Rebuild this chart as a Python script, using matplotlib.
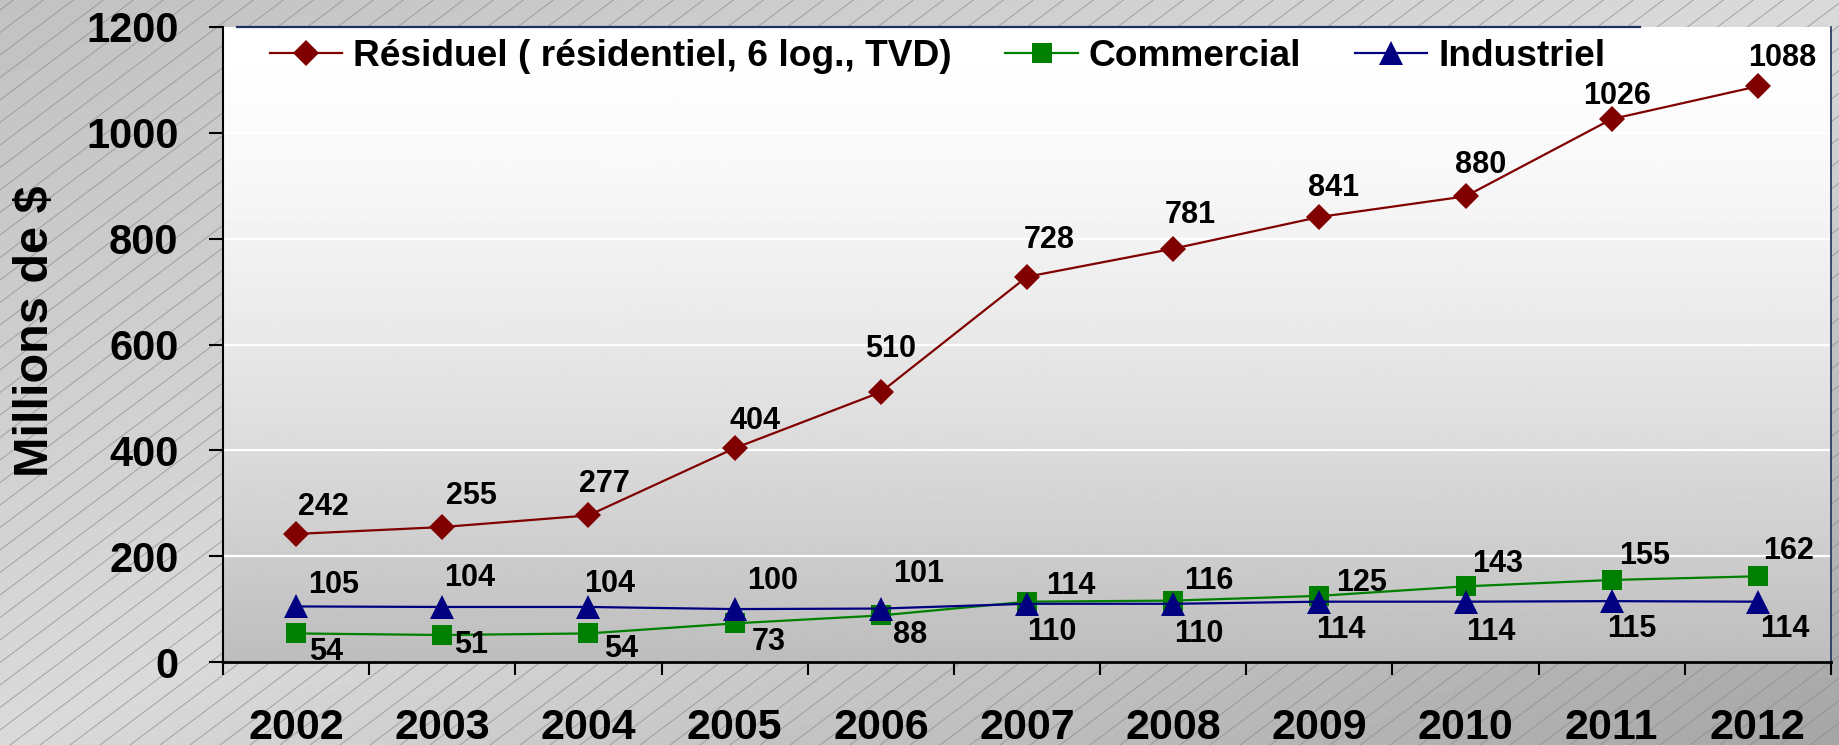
import numpy as np
import matplotlib
matplotlib.use("Agg")
import matplotlib.pyplot as plt

plt.rcParams['font.family'] = ['Liberation Sans', 'DejaVu Sans']
plt.rcParams['font.weight'] = 'bold'

# données
annees = ['2002', '2003', '2004', '2005', '2006', '2007', '2008', '2009', '2010', '2011', '2012']
residuel = [242, 255, 277, 404, 510, 728, 781, 841, 880, 1026, 1088]
commercial = [54, 51, 54, 73, 88, 114, 116, 125, 143, 155, 162]
industriel = [105, 104, 104, 100, 101, 110, 110, 114, 114, 115, 114]

noms = ['Résiduel ( résidentiel, 6 log., TVD)', 'Commercial', 'Industriel']
couleurs = ['#800000', '#008000', '#000080']
marqueurs = ['D', 's', '^']
tailles = [13, 15, 17]

# décalage des étiquettes (pixels, vers le bas = positif)
dec_res = [(27, -27), (29, -31), (16, -31), (20, -27), (10, -43), (22, -37),
           (17, -34), (14, -29), (15, -31), (5, -23), (24, -28)]
dec_com = [(30, 19), (29, 10), (33, 16), (34, 19), (29, 20), (44, -16),
           (36, -20), (42, -13), (32, -22), (33, -24), (31, -25)]
dec_ind = [(38, -21), (27, -29), (21, -23), (38, -28), (38, -35), (25, 28),
           (26, 30), (21, 28), (25, 30), (20, 28), (27, 27)]

W, H = 1839, 745
L, R, T, B = 223, 1831, 27, 662

fig = plt.figure(figsize=(W / 100, H / 100), dpi=100)

# fond de la figure
bg = fig.add_axes([0, 0, 1, 1], zorder=-5)
bg.set_xlim(0, W)
bg.set_ylim(H, 0)
bg.axis('off')
xx, yy = np.meshgrid(np.linspace(0, 1, 200), np.linspace(0, 1, 100))
u = (xx + yy) / 2
val = np.where(u < 0.5, 0.76 + (0.855 - 0.76) * u / 0.5, 0.855 - (0.855 - 0.65) * (u - 0.5) / 0.5)
bg.imshow(val, cmap='gray', vmin=0, vmax=1, extent=(0, W, H, 0), aspect='auto', zorder=0)
for c in range(-1100, W + 40, 30):
    bg.plot([c, c + H / 0.75], [H, 0], color='#8a8a8a', lw=0.6, alpha=0.8, zorder=1)

# fond de la zone de tracé
t = np.linspace(0, 1, 300)[:, None]
grad = 1 - 0.26 * t ** 1.5
bg.imshow(np.repeat(grad, 2, axis=1), cmap='gray', vmin=0, vmax=1,
          extent=(L, R, B, T), aspect='auto', zorder=2)

ax = fig.add_axes([L / W, 1 - B / H, (R - L) / W, (B - T) / H])
ax.patch.set_visible(False)

x = np.arange(len(annees))
series = [residuel, commercial, industriel]
decalages = [dec_res, dec_com, dec_ind]
for i in range(3):
    ax.plot(x, series[i], color=couleurs[i], lw=1.6, marker=marqueurs[i],
            markersize=tailles[i], markeredgewidth=0, label=noms[i], zorder=3)
    for j, v in enumerate(series[i]):
        dx, dy = decalages[i][j]
        ax.annotate(str(v), (x[j], v), xytext=(dx, -dy), textcoords='offset pixels',
                    ha='center', va='center', fontsize=22, fontweight='bold', zorder=4)

ax.set_xlim(-0.5, len(annees) - 0.5)
ax.set_ylim(0, 1200)
ax.set_yticks(range(0, 1201, 200))
for g in range(200, 1001, 200):
    ax.axhline(g, color='white', lw=1.6, zorder=1)

ax.set_xticks(x)
ax.set_xticklabels(annees)
ax.set_xticks(np.arange(-0.5, len(annees), 1), minor=True)
ax.tick_params(axis='x', which='major', length=0, pad=33, labelsize=31)
ax.tick_params(axis='x', which='minor', length=9, width=1.5, direction='out')
ax.tick_params(axis='y', length=10, width=1.5, direction='out', pad=22, labelsize=30)

ax.spines['left'].set_linewidth(1.5)
ax.spines['bottom'].set_linewidth(2)
ax.spines['top'].set_visible(False)
ax.spines['right'].set_color('#1f2f5f')
ax.spines['right'].set_linewidth(1.2)
ax.plot([0.009, 0.881], [1, 1], transform=ax.transAxes, color='#1f2f5f', lw=1.6, clip_on=False)

ax.legend(loc='center left', bbox_to_anchor=(0.029, 0.953), ncol=3, frameon=False,
          borderaxespad=0, borderpad=0, handlelength=1.95, handletextpad=0.3,
          columnspacing=1.45, prop={'size': 26.7, 'weight': 'bold'})

fig.text(36 / W, 1 - 331 / H, 'Millions de $', rotation=90, ha='center', va='center',
         fontsize=35, fontweight='bold')

fig.savefig('out.png', dpi=100)
